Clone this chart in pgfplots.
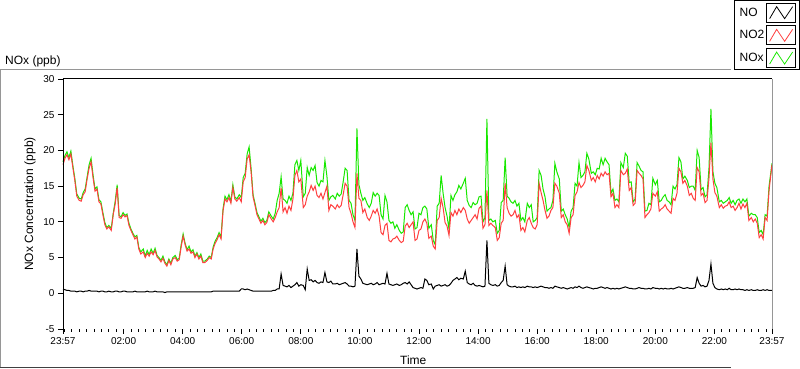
\documentclass[border=0pt]{standalone}
\usepackage{fontspec}
\setmainfont{Liberation Sans}
\usepackage{pgfplots}
\usepackage{pgfplotstable}
\pgfplotsset{compat=1.18}
\definecolor{nored}{RGB}{255,64,64}
\definecolor{nogreen}{RGB}{24,232,0}
\definecolor{framegray}{RGB}{150,150,150}

\pgfplotstableread{
t no no2 nox
0 0.6 18.0 18.4
4 0.5 18.9 19.3
8 0.4 19.4 19.8
12 0.4 18.7 19.0
16 0.3 19.5 19.9
20 0.3 17.6 17.9
24 0.3 15.8 16.1
28 0.2 13.6 13.9
33 0.3 13.0 13.3
37 0.3 12.9 13.2
41 0.2 13.8 14.1
45 0.3 14.2 14.6
49 0.3 16.0 16.3
53 0.4 17.5 18.0
57 0.3 18.4 18.9
61 0.3 16.2 16.6
65 0.3 14.3 14.6
69 0.3 14.6 14.9
73 0.2 12.8 13.1
77 0.3 12.5 12.8
81 0.3 11.0 11.3
85 0.2 9.6 9.9
89 0.2 9.0 9.2
93 0.3 9.3 9.5
98 0.2 8.8 9.1
102 0.2 11.0 11.2
106 0.3 12.5 12.9
110 0.3 14.8 15.2
114 0.2 10.6 10.9
118 0.2 10.5 10.7
122 0.3 11.0 11.3
126 0.3 10.7 10.9
130 0.2 10.9 11.1
134 0.2 9.5 9.8
138 0.2 8.8 9.0
142 0.2 8.2 8.4
146 0.3 7.6 7.9
150 0.2 7.9 8.1
154 0.2 6.2 6.4
158 0.2 5.5 5.8
163 0.2 5.8 6.2
167 0.2 5.0 5.2
171 0.3 5.6 6.0
175 0.2 5.2 5.4
179 0.2 5.8 6.2
183 0.2 5.4 5.6
187 0.3 6.0 6.3
191 0.2 5.1 5.3
195 0.2 4.8 5.0
199 0.2 4.4 4.6
203 0.2 4.9 5.2
207 0.1 4.2 4.4
211 0.2 3.8 4.0
215 0.2 4.6 4.8
219 0.2 4.0 4.2
223 0.2 4.8 5.0
228 0.2 5.0 5.3
232 0.2 4.5 4.7
236 0.2 4.7 4.9
240 0.2 6.5 6.8
244 0.2 8.0 8.3
248 0.2 6.8 7.0
252 0.2 5.9 6.1
256 0.2 6.2 6.6
260 0.2 5.6 5.8
264 0.2 5.8 6.1
268 0.2 5.0 5.2
272 0.2 5.5 5.7
276 0.2 4.8 5.0
280 0.2 5.2 5.5
284 0.2 4.3 4.5
288 0.2 4.3 4.5
293 0.2 4.6 4.8
297 0.2 5.0 5.2
301 0.2 4.8 5.0
305 0.3 6.2 6.5
309 0.3 7.0 7.3
313 0.3 7.5 7.8
317 0.3 8.2 8.5
321 0.3 7.6 7.9
325 0.3 11.5 11.8
329 0.3 13.2 13.6
333 0.3 12.8 13.1
337 0.3 13.4 13.8
341 0.3 12.6 12.9
345 0.3 14.8 15.2
349 0.3 13.2 13.5
353 0.3 12.9 13.2
358 0.3 13.4 13.8
362 0.6 12.8 13.4
366 0.6 15.6 16.2
370 0.5 16.2 16.8
374 0.6 18.8 19.5
378 0.5 19.4 20.5
382 0.4 17.0 17.5
386 0.3 13.5 13.8
390 0.3 12.3 12.6
394 0.3 11.0 11.3
398 0.3 10.4 10.7
402 0.3 9.8 10.1
406 0.3 10.2 10.5
410 0.3 9.6 9.9
414 0.3 9.9 10.2
418 0.3 11.0 11.4
423 0.3 10.4 10.8
427 0.4 10.0 10.4
431 0.4 10.6 11.2
435 0.6 11.4 13.0
439 0.6 12.0 14.0
443 2.7 14.8 16.3
447 1.1 11.4 13.2
451 1.0 12.0 13.0
455 0.9 11.2 12.6
459 1.1 12.2 13.6
463 0.8 11.6 13.0
467 1.0 13.2 14.0
471 1.2 16.5 18.0
475 1.5 17.2 18.6
479 1.0 15.6 17.2
483 1.2 16.0 18.6
488 1.1 12.0 13.5
492 0.5 12.4 14.0
496 3.4 13.6 17.6
500 1.8 14.2 16.5
504 1.9 15.1 17.6
508 1.6 14.4 17.2
512 1.8 15.0 17.9
516 1.5 13.7 15.5
520 1.4 13.4 15.0
524 1.6 14.0 15.8
528 1.5 13.2 15.6
532 2.9 14.1 18.6
536 1.6 15.0 16.4
540 1.5 11.6 13.0
544 1.7 12.4 13.5
548 1.3 12.2 13.7
553 1.3 11.8 13.2
557 1.4 12.4 14.0
561 1.2 12.0 13.6
565 1.3 12.3 13.9
569 1.4 13.8 15.6
573 1.5 15.4 17.5
577 1.3 15.0 17.2
581 1.0 12.0 13.0
585 1.0 11.2 12.6
589 0.9 10.0 11.0
593 1.0 9.2 10.2
597 6.2 16.8 23.1
601 2.4 13.3 15.2
605 2.0 13.0 14.0
609 1.4 11.3 13.0
613 1.3 11.8 13.4
618 1.2 10.6 12.5
622 1.3 10.2 12.0
626 1.4 10.8 12.6
630 1.2 11.6 14.1
634 1.3 11.2 13.6
638 1.5 11.8 14.0
642 1.2 10.8 13.7
646 1.3 8.5 11.0
650 1.4 8.2 10.4
654 1.3 9.5 13.7
658 2.8 9.8 12.8
662 1.3 7.4 10.2
666 1.2 7.2 9.8
670 1.1 7.6 10.0
674 1.2 7.7 9.1
678 1.3 8.0 9.6
683 1.1 7.4 8.8
687 1.2 7.1 8.4
691 1.4 7.3 8.6
695 1.5 9.4 12.0
699 1.3 9.8 12.4
703 1.6 9.2 11.6
707 1.2 9.6 11.0
711 0.8 10.0 11.4
715 0.7 7.4 9.0
719 0.6 7.6 9.2
723 0.7 8.8 11.2
727 0.8 9.0 11.0
731 0.7 10.0 12.0
735 2.0 10.4 12.2
739 1.8 9.8 11.8
743 1.2 7.7 9.1
748 1.3 8.0 9.6
752 0.6 6.6 7.4
756 1.0 6.2 6.8
760 1.1 10.2 12.2
764 1.2 10.6 12.6
768 1.0 13.3 16.5
772 1.1 12.0 14.0
776 1.2 9.9 12.0
780 1.0 9.4 10.8
784 1.1 8.1 9.0
788 1.4 11.3 13.7
792 1.8 10.8 13.0
796 2.0 11.6 13.8
800 2.2 11.0 14.2
804 1.9 11.8 15.1
808 2.1 11.3 14.6
813 2.0 12.0 15.4
817 3.1 11.6 16.1
821 1.5 10.4 13.0
825 1.3 9.8 12.3
829 1.2 10.2 12.0
833 1.4 10.6 12.7
837 1.1 11.0 12.4
841 1.0 10.4 12.6
845 1.1 11.9 13.5
849 1.0 12.2 13.6
853 0.9 9.1 10.0
857 1.0 9.6 10.6
861 7.4 14.4 24.4
865 1.4 9.5 10.2
869 1.2 9.8 10.4
873 1.1 9.5 10.0
878 1.2 9.2 10.2
882 1.0 7.4 8.4
886 1.1 7.8 8.8
890 1.5 9.8 12.7
894 1.8 10.2 13.0
898 3.8 15.4 19.0
902 1.2 12.0 13.6
906 1.0 11.2 13.3
910 0.9 10.8 12.8
914 0.9 11.0 12.6
918 1.0 11.6 13.0
922 0.8 10.6 12.2
926 0.9 11.0 12.6
930 0.8 8.8 10.2
934 0.9 9.2 10.6
938 0.8 8.6 10.0
943 1.0 10.2 12.6
947 0.9 10.6 12.0
951 0.9 9.8 12.4
955 0.8 9.2 10.0
959 0.9 9.0 10.2
963 0.8 9.6 10.6
967 0.9 15.4 17.2
971 1.0 14.1 16.5
975 0.9 13.0 14.6
979 0.8 11.6 13.5
983 0.8 10.5 11.5
987 0.7 10.8 11.8
991 0.8 11.6 12.0
995 0.7 12.0 13.0
999 1.0 15.4 18.2
1003 0.9 15.0 17.0
1008 0.8 14.0 16.0
1012 0.7 10.6 11.5
1016 0.8 11.0 11.8
1020 0.7 10.0 11.0
1024 0.6 9.6 10.4
1028 0.7 8.4 9.2
1032 0.8 10.6 11.5
1036 0.7 11.0 12.0
1040 0.9 13.7 15.4
1044 0.8 14.2 15.0
1048 1.0 15.5 18.3
1052 0.8 14.8 16.2
1056 0.7 15.1 16.5
1060 0.8 15.6 17.0
1064 0.9 17.9 19.6
1068 0.8 17.2 18.8
1073 0.7 15.8 16.8
1077 0.6 16.2 17.0
1081 0.7 15.6 16.6
1085 0.7 16.5 17.5
1089 0.8 16.0 17.4
1093 0.9 16.8 18.9
1097 0.8 16.4 18.0
1101 0.7 17.0 18.9
1105 0.8 16.6 18.4
1109 0.7 16.8 18.0
1113 0.6 13.5 14.0
1117 0.7 14.0 14.6
1121 0.6 12.0 13.0
1125 0.7 12.4 13.2
1129 0.6 12.0 12.8
1133 0.7 17.2 18.3
1138 0.8 16.6 17.6
1142 0.9 16.8 19.6
1146 0.8 17.4 19.2
1150 0.7 14.4 15.5
1154 0.7 14.8 15.6
1158 0.6 12.3 12.8
1162 0.6 12.6 13.2
1166 0.7 17.2 18.3
1170 0.8 16.8 17.8
1174 0.7 16.5 17.2
1178 0.7 16.0 17.0
1182 0.6 10.6 11.5
1186 0.6 11.0 11.6
1190 0.7 11.3 12.6
1194 0.6 11.8 12.4
1198 0.8 14.0 16.1
1203 0.7 13.6 15.2
1207 0.7 14.2 15.8
1211 0.6 11.5 12.8
1215 0.7 11.8 13.0
1219 0.6 12.0 13.5
1223 0.7 12.4 13.8
1227 0.6 11.8 13.0
1231 0.6 11.5 12.8
1235 0.7 11.2 12.4
1239 0.6 13.3 15.0
1243 0.7 13.0 14.6
1247 0.8 14.0 15.2
1251 0.9 17.5 19.0
1255 0.8 17.0 18.4
1259 0.7 15.4 16.0
1263 0.7 15.8 16.4
1268 0.8 15.0 15.8
1272 0.7 13.7 14.8
1276 0.7 14.0 15.0
1280 0.7 13.3 15.0
1284 0.8 13.0 14.4
1288 2.2 17.6 20.0
1292 1.4 17.0 19.0
1296 1.0 13.7 14.5
1300 1.1 14.0 14.8
1304 0.9 12.7 13.5
1308 1.0 13.0 13.8
1312 1.8 16.1 17.5
1316 4.1 21.1 25.8
1320 1.4 16.0 17.0
1324 0.8 14.1 15.4
1328 0.6 13.6 14.8
1333 0.5 12.0 12.8
1337 0.6 12.4 13.0
1341 0.5 11.9 12.6
1345 0.6 12.2 12.8
1349 0.5 12.3 13.0
1353 0.7 12.8 13.4
1357 0.5 12.0 12.6
1361 0.5 12.2 13.0
1365 0.6 11.6 12.4
1369 0.5 12.0 13.0
1373 0.6 12.6 13.2
1377 0.5 11.8 12.6
1381 0.5 12.5 13.2
1385 0.4 12.0 12.8
1389 0.5 12.6 13.2
1393 0.4 10.2 10.8
1398 0.5 10.6 11.2
1402 0.4 10.0 11.0
1406 0.4 10.4 11.0
1410 0.5 9.8 10.6
1414 0.4 7.8 8.5
1418 0.4 8.2 8.8
1422 0.5 7.6 8.2
1426 0.4 10.6 11.0
1430 0.5 10.2 10.8
1434 0.4 14.4 15.0
1440 0.4 18.0 18.2
}\datatable

\begin{document}
\begin{tikzpicture}[x=1pt,y=1pt]
\path[use as bounding box] (0,0) rectangle (800,369);
% outer frame of the graph panel
\draw[framegray, line width=1pt] (0.5,1) -- (0.5,299.5) -- (731,299.5);
\draw[black!75, line width=1pt] (0,1.5) -- (731,1.5);
\node[anchor=base west, inner sep=0pt, font=\fontsize{12}{14}\selectfont] at (5,304) {NOx (ppb)};
\begin{axis}[
  at={(63pt,40pt)}, anchor=south west,
  width=709pt, height=250pt, scale only axis,
  xmin=0, xmax=1440, ymin=-5, ymax=30,
  clip=false,
  axis line style={draw=none},
  tick pos=left, tick align=outside,
  major tick length=5pt, minor tick length=3pt,
  tick style={black, line width=0.8pt},
  ytick={-5,0,5,10,15,20,25,30},
  xtick={0,123,243,363,483,603,723,843,963,1083,1203,1323,1440},
  xticklabels={23:57,02:00,04:00,06:00,08:00,10:00,12:00,14:00,16:00,18:00,20:00,22:00,23:57},
  minor xtick={3,18,...,1428},
  /pgf/number format/assume math mode=true,
  ticklabel style={font=\fontsize{10}{12}\selectfont},
  xlabel={Time},
  ylabel={NOx Concentration (ppb)},
  label style={font=\fontsize{12}{14}\selectfont},
  xlabel style={at={(axis description cs:0.494,-0.124)}, anchor=center},
  ylabel style={at={(axis description cs:-0.0465,0.5)}, anchor=center},
  legend style={at={(axis description cs:1.0386,1.3144)}, anchor=north east,
    draw=black, line width=0.8pt, fill=white,
    font=\fontsize{12}{14}\selectfont,
    inner xsep=3pt, inner ysep=2pt, row sep=3pt,
    /tikz/every even column/.style={column sep=6pt}},
  legend cell align=left,
  legend plot pos=right,
  reverse legend,
  legend image code/.code={
    \draw[black, line width=0.7pt, fill=white] (0pt,-9.5pt) rectangle (29pt,9.5pt);
    \draw[#1, line width=0.8pt] (3pt,-6pt) -- (10pt,6pt) -- (18pt,-6pt) -- (26pt,6pt);
  },
]
\addplot[nogreen, line width=1pt] table[x=t, y=nox] {\datatable};
\addlegendentry{NOx}
\addplot[nored, line width=1pt] table[x=t, y=no2] {\datatable};
\addlegendentry{NO2}
\addplot[black, line width=1pt] table[x=t, y=no] {\datatable};
\addlegendentry{NO}
\draw[black, line width=1pt] (rel axis cs:0,0) -- (rel axis cs:0,1) -- (rel axis cs:1,1);
\draw[framegray, line width=1pt] (rel axis cs:1,1) -- (rel axis cs:1,0);
\end{axis}
\end{tikzpicture}
\end{document}
